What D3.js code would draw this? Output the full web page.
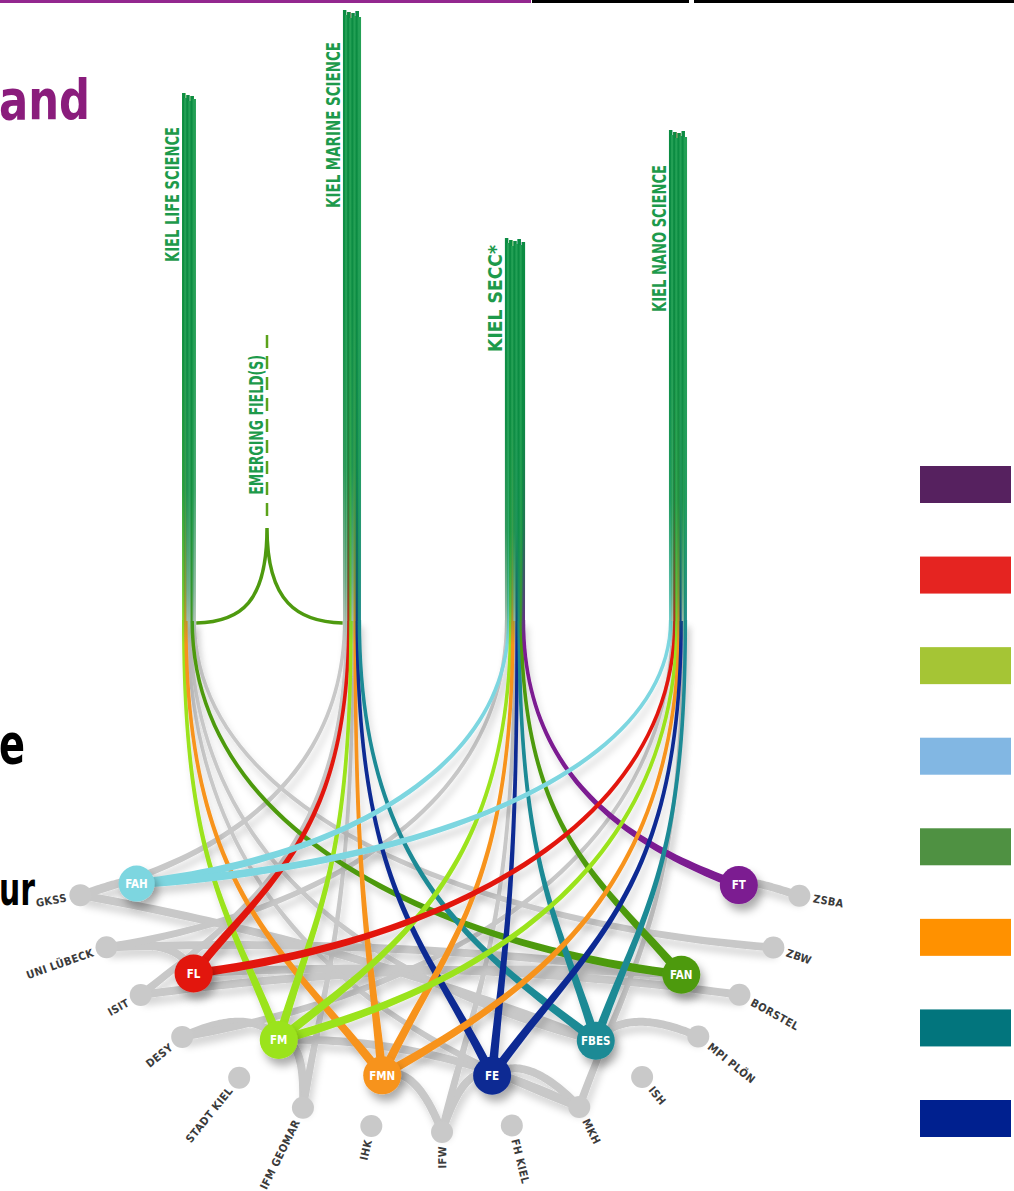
<!DOCTYPE html>
<html>
<head>
<meta charset="utf-8">
<script src="https://cdn.jsdelivr.net/npm/d3@7"></script>
<style>
  html, body { margin: 0; padding: 0; background: #fff; overflow: hidden; }
  svg { display: block; }
</style>
</head>
<body>
<svg id="chart" width="1014" height="1191"></svg>
<script>
"use strict";

// ---- data ----
const pillarKeys = ["LIFE", "MARINE", "SECC", "NANO"];
const pillarNames = ["KIEL LIFE SCIENCE", "KIEL MARINE SCIENCE", "KIEL SECC*", "KIEL NANO SCIENCE"];
const centres = ["FAH", "FL", "FM", "FMN", "FE", "FBES", "FAN", "FT"];
const centreColors = ["#7dd6e0", "#e2150d", "#9be31c", "#f7931e", "#0b2a93", "#1f8a95", "#4e9a0f", "#7b1a91"];
const partners = ["GKSS", "UNI LÜBECK", "ISIT", "DESY", "STADT KIEL", "IFM GEOMAR", "IHK", "IFW",
                  "FH KIEL", "MKH", "ISH", "MPI PLÖN", "BORSTEL", "ZBW", "ZSBA"];
const emergingName = "EMERGING FIELD(S)";

// pillar -> centre (coloured by centre)
const colourLinks = [
  ["LIFE", "FM"], ["LIFE", "FMN"], ["LIFE", "FAN"],
  ["MARINE", "FL"], ["MARINE", "FM"], ["MARINE", "FMN"], ["MARINE", "FE"], ["MARINE", "FBES"],
  ["SECC", "FAH"], ["SECC", "FM"], ["SECC", "FMN"], ["SECC", "FE"], ["SECC", "FBES"], ["SECC", "FAN"], ["SECC", "FT"],
  ["NANO", "FAH"], ["NANO", "FL"], ["NANO", "FM"], ["NANO", "FMN"], ["NANO", "FE"], ["NANO", "FBES"]
];
// pillar -> partner / centre (grey)
const greyPillarLinks = [
  ["LIFE", "MKH"], ["LIFE", "FBES"], ["LIFE", "ZBW"],
  ["MARINE", "GKSS"], ["MARINE", "ISIT"], ["MARINE", "IFM GEOMAR"],
  ["SECC", "UNI LÜBECK"], ["SECC", "IFW"],
  ["NANO", "DESY"], ["NANO", "MKH"]
];
// partner -> centre (grey)
const greyLinks = [
  ["GKSS", "FAH"], ["GKSS", "FBES"], ["UNI LÜBECK", "FL"], ["UNI LÜBECK", "FAN"], ["ISIT", "FAN"],
  ["DESY", "FM"], ["IFM GEOMAR", "FM"], ["IFW", "FMN"], ["IFW", "FE"], ["MKH", "FM"], ["MKH", "FE"],
  ["MPI PLÖN", "FBES"], ["BORSTEL", "FL"], ["ZSBA", "FT"]
];
const legendColors = ["#56215f", "#e52421", "#a5c535", "#82b7e3", "#4f9142", "#ff9100", "#02757d", "#00208f"];

// ---- layout ----
const svg = d3.select("#chart");
const defs = svg.append("defs");
const GREY = "#c8c8c8";
const LABEL_GREEN = "#1d9a4b";
const condensed = "'Liberation Sans Narrow', 'DejaVu Sans Condensed', 'Liberation Sans', sans-serif";
const dinish = "'DejaVu Sans Condensed', 'DejaVu Sans', sans-serif";

const pillarX = d3.scalePoint().domain(pillarKeys).range([189, 678]);
const pillarTop = {LIFE: 93, MARINE: 10, SECC: 238, NANO: 130};
const labelTop = {LIFE: 127, MARINE: 42, SECC: 245, NANO: 165};
const labelLen = {LIFE: 135, MARINE: 166, SECC: 107, NANO: 147};
const bendY = 620;

const centreAngle = d3.scalePoint().domain(centres).range([158.5, 21.8]);
const partnerAngle = d3.scaleLinear().domain([0, 3, 7, 11, 14]).range([158.7, 131.9, 89.7, 48, 21.4]);
const colorOf = d3.scaleOrdinal().domain(centres).range(centreColors);

const rad = d => d * Math.PI / 180;
function centrePos(c) {
  const a = rad(centreAngle(c));
  return [438 + 324 * Math.cos(a), 770 + 310 * Math.sin(a)];
}
function partnerPos(p) {
  const a = rad(partnerAngle(partners.indexOf(p)));
  return [440 + 386 * Math.cos(a), 760 + 372 * Math.sin(a)];
}
const posOf = n => centres.includes(n) ? centrePos(n) : partnerPos(n);

// tapered cubic bezier as a filled outline
function taper(p0, p1, p2, p3, w0, w1) {
  const n = 50, left = [], right = [];
  for (let i = 0; i <= n; i++) {
    const t = i / n, u = 1 - t;
    const x = u*u*u*p0[0] + 3*u*u*t*p1[0] + 3*u*t*t*p2[0] + t*t*t*p3[0];
    const y = u*u*u*p0[1] + 3*u*u*t*p1[1] + 3*u*t*t*p2[1] + t*t*t*p3[1];
    const dx = 3*u*u*(p1[0]-p0[0]) + 6*u*t*(p2[0]-p1[0]) + 3*t*t*(p3[0]-p2[0]);
    const dy = 3*u*u*(p1[1]-p0[1]) + 6*u*t*(p2[1]-p1[1]) + 3*t*t*(p3[1]-p2[1]);
    const len = Math.hypot(dx, dy) || 1;
    const w = (w0 + (w1 - w0) * t * t) / 2;
    left.push([x - dy / len * w, y + dx / len * w]);
    right.push([x + dy / len * w, y - dx / len * w]);
  }
  return d3.line()(left.concat(right.reverse())) + "Z";
}

// control points for a pillar curve
function pillarCurve(s, t) {
  const dx = t[0] - s[0], dy = t[1] - s[1];
  const ratio = Math.min(dy / Math.max(Math.abs(dx), 1), 2.5);
  return [s, [s[0], s[1] + 0.6 * dy], [t[0] - 0.5 * dx, t[1] - 0.12 * dy * ratio], t];
}
// gently bowed node-to-node curve
function bowCurve(s, t) {
  const m = [(s[0] + t[0]) / 2, (s[1] + t[1]) / 2];
  const q = [m[0] + (440 - m[0]) * 0.1, m[1] + (760 - m[1]) * 0.12];
  return [s, [s[0] + 2/3 * (q[0] - s[0]), s[1] + 2/3 * (q[1] - s[1])],
             [t[0] + 2/3 * (q[0] - t[0]), t[1] + 2/3 * (q[1] - t[1])], t];
}

// vertical label squeezed to a given length (scaled, not textLength)
function verticalLabel(x, yTop, len, size, txt) {
  const g = svg.append("g");
  const t = g.append("text").attr("font-family", condensed).attr("font-weight", "bold")
    .attr("font-size", size).attr("fill", LABEL_GREEN).attr("text-anchor", "end").text(txt);
  const natural = t.node().getComputedTextLength() || len;
  g.attr("transform", `translate(${x},${yTop}) rotate(-90) scale(${len / natural},1)`);
}

// bundle offsets inside each pillar (left-most target on the left)
const bundle = {};
pillarKeys.forEach(k => {
  const ls = colourLinks.filter(l => l[0] === k).map(l => ({target: l[1], colour: colorOf(l[1])}))
    .concat(greyPillarLinks.filter(l => l[0] === k).map(l => ({target: l[1], colour: GREY})));
  ls.sort((a, b) => posOf(a.target)[0] - posOf(b.target)[0]);
  const step = 2.1;
  ls.forEach((l, i) => { l.x = pillarX(k) + (i - (ls.length - 1) / 2) * step; l.i = i; });
  bundle[k] = ls;
});
const jag = [0, 5, 2, 8, 3, 6, 1, 7, 4];

// ---- filters / gradients ----
const f1 = defs.append("filter").attr("id", "nodeShadow")
  .attr("x", "-50%").attr("y", "-50%").attr("width", "220%").attr("height", "220%");
f1.append("feDropShadow").attr("dx", 4).attr("dy", 7).attr("stdDeviation", 4)
  .attr("flood-color", "#000").attr("flood-opacity", 0.32);
const f2 = defs.append("filter").attr("id", "lineShadow").attr("filterUnits", "userSpaceOnUse")
  .attr("x", 0).attr("y", 0).attr("width", 1014).attr("height", 1191);
f2.append("feDropShadow").attr("dx", 3).attr("dy", 7).attr("stdDeviation", 3.5)
  .attr("flood-color", "#000").attr("flood-opacity", 0.16);

pillarKeys.forEach(k => {
  [["a", "#0b8c42"], ["b", "#23a055"]].forEach(([s, c]) => {
    const g = defs.append("linearGradient").attr("id", `pg-${k}-${s}`)
      .attr("gradientUnits", "userSpaceOnUse")
      .attr("x1", 0).attr("x2", 0).attr("y1", pillarTop[k]).attr("y2", bendY + 25);
    [[0, 1], [0.45, 0.97], [0.72, 0.8], [0.9, 0.35], [1, 0]].forEach(([o, op]) =>
      g.append("stop").attr("offset", o).attr("stop-color", c).attr("stop-opacity", op));
  });
});

// ---- slide fragments ----
svg.append("rect").attr("x", 0).attr("y", 0).attr("width", 531).attr("height", 3).attr("fill", "#93278f");
svg.append("rect").attr("x", 532).attr("y", 0).attr("width", 157).attr("height", 3).attr("fill", "#000");
svg.append("rect").attr("x", 694).attr("y", 0).attr("width", 320).attr("height", 3).attr("fill", "#000");
svg.append("text").attr("x", 90).attr("y", 119).attr("text-anchor", "end")
  .attr("font-family", condensed).attr("font-weight", "bold").attr("font-size", 56)
  .attr("textLength", 91).attr("lengthAdjust", "spacingAndGlyphs")
  .attr("fill", "#8a1c7c").text("and");
svg.append("text").attr("x", 25).attr("y", 763).attr("text-anchor", "end")
  .attr("font-family", condensed).attr("font-weight", "bold").attr("font-size", 56)
  .attr("textLength", 26).attr("lengthAdjust", "spacingAndGlyphs").attr("fill", "#000").text("e");
svg.append("text").attr("x", 35).attr("y", 905).attr("text-anchor", "end")
  .attr("font-family", condensed).attr("font-weight", "bold").attr("font-size", 46)
  .attr("textLength", 36).attr("lengthAdjust", "spacingAndGlyphs").attr("fill", "#000").text("ur");

// ---- grey network ----
const gGrey = svg.append("g").attr("filter", "url(#lineShadow)");
greyLinks.forEach(([a, b]) => {
  const c = bowCurve(posOf(a), posOf(b));
  gGrey.append("path").attr("d", taper(...c, 8, 8)).attr("fill", GREY);
});
pillarKeys.forEach(k => bundle[k].filter(l => l.colour === GREY).forEach(l => {
  const c = pillarCurve([l.x, bendY], posOf(l.target));
  gGrey.append("path").attr("d", taper(...c, 3.5, 8)).attr("fill", GREY);
}));

svg.append("g").selectAll("circle").data(partners).join("circle")
  .attr("cx", d => partnerPos(d)[0]).attr("cy", d => partnerPos(d)[1])
  .attr("r", 11).attr("fill", "#c9c9c9");

// ---- coloured links ----
const gCol = svg.append("g").attr("filter", "url(#lineShadow)");
pillarKeys.forEach(k => bundle[k].filter(l => l.colour !== GREY).forEach(l => {
  const c = pillarCurve([l.x, bendY], posOf(l.target));
  gCol.append("path").attr("d", taper(...c, 3.5, 9)).attr("fill", l.colour);
}));

// ---- pillars ----
const gPil = svg.append("g");
pillarKeys.forEach(k => {
  bundle[k].forEach(l => {
    gPil.append("line").attr("x1", l.x).attr("x2", l.x)
      .attr("y1", pillarTop[k] + jag[l.i % jag.length]).attr("y2", bendY + 1)
      .attr("stroke", l.colour).attr("stroke-width", 3.2);
  });
  bundle[k].forEach(l => {
    gPil.append("line").attr("x1", l.x).attr("x2", l.x)
      .attr("y1", pillarTop[k] + jag[l.i % jag.length]).attr("y2", bendY + 25)
      .attr("stroke", `url(#pg-${k}-${l.i % 2 ? "b" : "a"})`).attr("stroke-width", 3.4);
  });
});

pillarKeys.forEach((k, i) => {
  verticalLabel(d3.min(bundle[k], l => l.x) - 5, labelTop[k], labelLen[k], 19.5, pillarNames[i]);
});

// ---- emerging field ----
const ex = 267;
const lx = d3.max(bundle.LIFE, l => l.x) + 2, mx = d3.min(bundle.MARINE, l => l.x) - 2;
svg.append("line").attr("x1", ex).attr("x2", ex).attr("y1", 335).attr("y2", 521)
  .attr("stroke", "#5ba21b").attr("stroke-width", 2.5).attr("stroke-dasharray", "13 8");
const ep = d3.path();
ep.moveTo(lx, 623); ep.bezierCurveTo(lx + 45, 622, ex, 602, ex, 528);
ep.bezierCurveTo(ex, 602, mx - 45, 622, mx, 623);
svg.append("path").attr("d", ep.toString()).attr("fill", "none")
  .attr("stroke", "#4e9a0f").attr("stroke-width", 3.5);
verticalLabel(ex - 4, 355, 140, 19, emergingName);

// ---- centre nodes ----
const gNode = svg.append("g").selectAll("g").data(centres).join("g")
  .attr("transform", d => `translate(${centrePos(d)})`);
gNode.append("circle").attr("r", d => d === "FAH" ? 18 : 19).attr("fill", d => colorOf(d))
  .attr("filter", "url(#nodeShadow)");
gNode.append("text").attr("text-anchor", "middle").attr("dy", "0.36em")
  .attr("font-family", dinish).attr("font-weight", "bold").attr("font-size", 11.5)
  .attr("fill", "#fff").text(d => d);

// ---- partner labels ----
partners.forEach(p => {
  const [x, y] = partnerPos(p);
  const a = Math.atan2(y - 830, x - 440);
  const deg = a * 180 / Math.PI;
  const left = x <= 445;
  svg.append("text")
    .attr("transform", `translate(${x + Math.cos(a) * 14},${y + Math.sin(a) * 14}) rotate(${left ? deg - 180 : deg})`)
    .attr("text-anchor", left ? "end" : "start").attr("dy", "0.36em")
    .attr("font-family", dinish).attr("font-weight", "bold").attr("font-size", 11)
    .attr("letter-spacing", 0.4).attr("fill", "#3b3b3b").text(p);
});

// ---- legend swatches ----
const legY = d3.scalePoint().domain(d3.range(legendColors.length)).range([466, 1100]);
svg.append("g").selectAll("rect").data(legendColors).join("rect")
  .attr("x", 920).attr("y", (d, i) => legY(i)).attr("width", 91).attr("height", 37)
  .attr("fill", d => d);
</script>
</body>
</html>
